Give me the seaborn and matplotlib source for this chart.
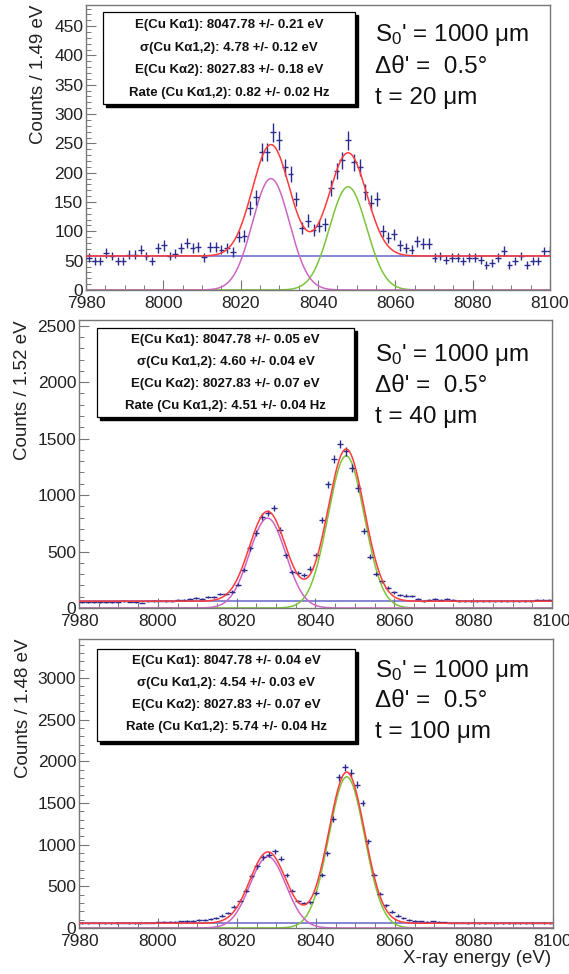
import numpy as np
import pandas as pd
import matplotlib
matplotlib.use("Agg")
import matplotlib.pyplot as plt
from matplotlib.patches import Rectangle
from matplotlib.ticker import MultipleLocator
import seaborn as sns

W, H = 569, 974

# =====================
# DATA
# =====================
thickness = [20, 40, 100]
bin_width = [1.49, 1.52, 1.48]
y_top = [486, 2550, 3470]
y_major = [50, 500, 500]
y_minor = [10, 100, 100]

counts_20um = [55, 50, 50, 63, 58, 50, 50, 60, 60, 69,
               58, 49, 72, 76, 58, 62, 72, 80, 71, 73,
               56, 74, 74, 69, 71, 65, 91, 92, 140, 158,
               235, 235, 269, 255, 209, 198, 155, 106, 118, 102,
               109, 112, 174, 203, 221, 255, 218, 209, 167, 149,
               155, 101, 89, 95, 76, 72, 69, 83, 79, 79,
               55, 58, 52, 55, 55, 49, 55, 55, 52, 43,
               46, 55, 67, 43, 49, 58, 43, 50, 50, 66, 67]

counts_40um = [55, 52, 50, 55, 52, 50, 55, 60, 57, 52,
               48, 58, 65, 66, 60, 58, 75, 70, 80, 85,
               82, 100, 95, 125, 125, 145, 205, 334, 527, 661,
               810, 840, 885, 691, 468, 319, 310, 290, 349, 468,
               780, 1094, 1317, 1451, 1386, 1237, 1064, 682, 453, 304,
               235, 179, 140, 116, 110, 104, 80, 63, 75, 80,
               72, 80, 70, 65, 62, 60, 65, 60, 62, 58,
               60, 65, 62, 58, 60, 65, 70, 68, 72]

counts_100um = [60, 58, 62, 60, 55, 58, 60, 62, 60, 58,
                60, 65, 62, 68, 72, 75, 78, 80, 85, 82,
                95, 100, 110, 125, 150, 180, 255, 330, 450, 620,
                740, 850, 880, 920, 830, 640, 450, 320, 300, 310,
                420, 640, 900, 1310, 1810, 1930, 1860, 1720, 1500, 1040,
                640, 412, 271, 198, 150, 117, 97, 85, 81, 78,
                80, 70, 68, 65, 62, 64, 60, 62, 58, 60,
                62, 58, 55, 60, 58, 56, 58, 60, 62, 60, 58]

all_counts = [counts_20um, counts_40um, counts_100um]

# fit results
e_ka1 = 8047.78
e_ka2 = 8027.83
sigma = [4.78, 4.60, 4.54]
background = [58, 60, 57]
amp_ka2 = [190, 796, 857]
amp_ka1 = [176, 1347, 1815]

stats_text = [
    ["E(Cu K\u03b11): 8047.78 +/- 0.21 eV", "\u03c3(Cu K\u03b11,2): 4.78 +/- 0.12 eV",
     "E(Cu K\u03b12): 8027.83 +/- 0.18 eV", "Rate (Cu K\u03b11,2): 0.82 +/- 0.02 Hz"],
    ["E(Cu K\u03b11): 8047.78 +/- 0.05 eV", "\u03c3(Cu K\u03b11,2): 4.60 +/- 0.04 eV",
     "E(Cu K\u03b12): 8027.83 +/- 0.07 eV", "Rate (Cu K\u03b11,2): 4.51 +/- 0.04 Hz"],
    ["E(Cu K\u03b11): 8047.78 +/- 0.04 eV", "\u03c3(Cu K\u03b11,2): 4.54 +/- 0.03 eV",
     "E(Cu K\u03b12): 8027.83 +/- 0.07 eV", "Rate (Cu K\u03b11,2): 5.74 +/- 0.04 Hz"],
]

# =====================
# STYLE
# =====================
sns.set_theme(style="ticks")
plt.rcParams['font.family'] = ['Liberation Sans', 'DejaVu Sans']
plt.rcParams['mathtext.fontset'] = 'custom'
plt.rcParams['mathtext.rm'] = 'Liberation Sans'
plt.rcParams['mathtext.it'] = 'Liberation Sans:italic'

frame_col = '#777777'
data_col = '#2c2c8c'
red = '#ff3b3b'
magenta = '#cc66c4'
green = '#7cc43a'
blue = '#6464c8'

fig = plt.figure(figsize=(W / 100, H / 100), dpi=100)

# axes boxes in pixels: left, top, right, bottom
boxes = [(86, 5, 550, 290), (79, 320, 552, 608), (79, 639, 553, 928)]
stat_boxes = [(103, 12, 355, 104), (97, 328, 354, 417), (97, 649, 355, 741)]
stat_line_y = [[25, 48, 70, 93], [340, 362, 384, 406], [661, 683, 705, 727]]
info_y = [[35, 67, 98], [355, 386, 417], [671, 701, 732]]
ylabel_x = [-0.084, -0.101, -0.099]


def px(x, y):
    return x / W, 1 - y / H


x_fine = np.linspace(7980, 8100, 800)

for k in range(3):
    l, t, r, b = boxes[k]
    ax = fig.add_axes([l / W, 1 - b / H, (r - l) / W, (b - t) / H])

    counts = np.array(all_counts[k], dtype=float)
    bw = bin_width[k]
    centers = 7980 + bw * (np.arange(len(counts)) + 0.5)

    g2 = amp_ka2[k] * np.exp(-0.5 * ((x_fine - e_ka2) / sigma[k]) ** 2)
    g1 = amp_ka1[k] * np.exp(-0.5 * ((x_fine - e_ka1) / sigma[k]) ** 2)
    bg = np.full_like(x_fine, background[k])
    fits = pd.DataFrame({'E': x_fine, 'bkg': bg, 'ka1': g1, 'ka2': g2,
                         'total': bg + g1 + g2})

    sns.lineplot(data=fits, x='E', y='bkg', ax=ax, color=blue, lw=1.1)
    sns.lineplot(data=fits, x='E', y='ka1', ax=ax, color=green, lw=1.1)
    sns.lineplot(data=fits, x='E', y='ka2', ax=ax, color=magenta, lw=1.1)
    ax.errorbar(centers, counts, xerr=bw / 2, yerr=np.sqrt(counts), fmt='none',
                ecolor=data_col, elinewidth=1.0, capsize=0, zorder=3)
    sns.lineplot(data=fits, x='E', y='total', ax=ax, color=red, lw=1.1, zorder=4)

    ax.set_xlim(7980, 8100)
    ax.set_ylim(0, y_top[k])
    ax.set_xticks(np.arange(7980, 8101, 20))
    ax.xaxis.set_minor_locator(MultipleLocator(5))
    ax.yaxis.set_major_locator(MultipleLocator(y_major[k]))
    ax.yaxis.set_minor_locator(MultipleLocator(y_minor[k]))
    ax.tick_params(which='major', direction='in', length=7, width=0.8,
                   color=frame_col, labelsize=12.5, pad=2, labelcolor='#222222')
    ax.tick_params(which='minor', direction='in', length=3.5, width=0.7,
                   color=frame_col)
    ax.tick_params(axis='x', pad=4)
    for s in ax.spines.values():
        s.set_color(frame_col)
        s.set_linewidth(1.0)

    ax.set_ylabel(f'Counts / {bin_width[k]:.2f} eV', loc='top', fontsize=13.5,
                  color='#222222')
    ax.yaxis.set_label_coords(ylabel_x[k], 1.0)
    if k == 2:
        ax.set_xlabel('X-ray energy (eV)', loc='right', fontsize=13.5,
                      color='#222222')
        ax.xaxis.set_label_coords(0.996, -0.075)
    else:
        ax.set_xlabel('')

    # stats box with shadow
    bl, bt, br, bb = stat_boxes[k]
    shadow = Rectangle(px(bl + 3, bb + 3), (br - bl) / W, (bb - bt) / H,
                       transform=fig.transFigure, facecolor='black',
                       edgecolor='black', zorder=5)
    frame = Rectangle(px(bl, bb), (br - bl) / W, (bb - bt) / H,
                      transform=fig.transFigure, facecolor='white',
                      edgecolor='black', lw=0.9, zorder=6)
    fig.add_artist(shadow)
    fig.add_artist(frame)
    cx = (bl + br) / 2
    for line, yy in zip(stats_text[k], stat_line_y[k]):
        fig.text(*px(cx, yy), line, ha='center', va='center', fontsize=9.5,
                 fontweight='bold', color='#111111', zorder=7)

    info = ["S$_\\mathrm{0}$' = 1000 \u03bcm", "\u0394\u03b8' =  0.5\u00b0",
            f"t = {thickness[k]} \u03bcm"]
    for line, yy in zip(info, info_y[k]):
        fig.text(*px(375, yy), line, ha='left', va='center', fontsize=17.5,
                 color='#111111')

fig.savefig('out.png', dpi=100)
